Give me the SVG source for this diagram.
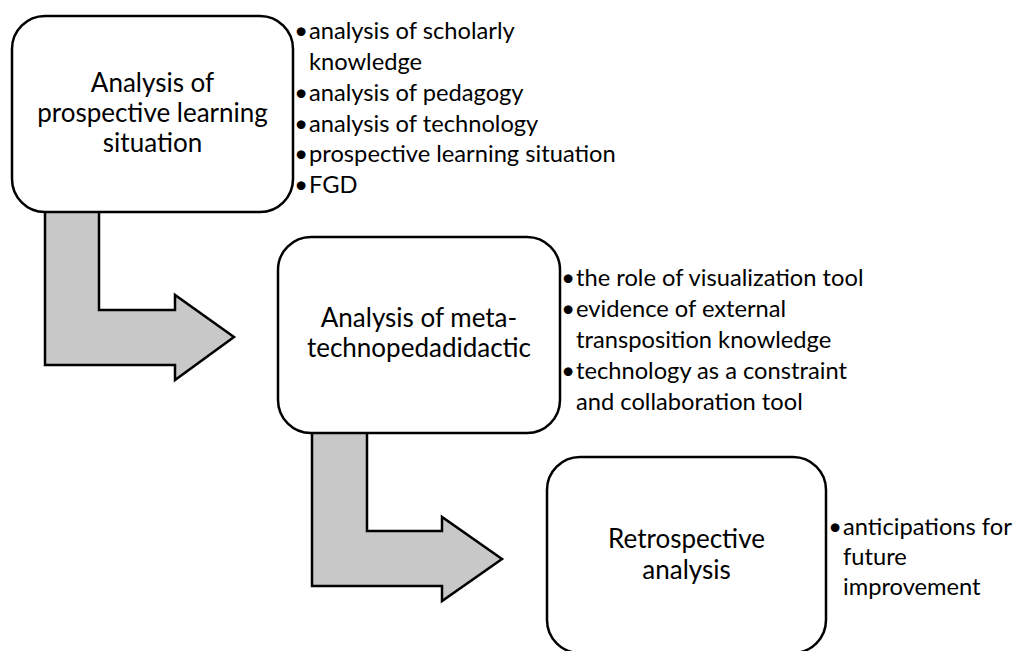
<svg xmlns="http://www.w3.org/2000/svg" width="1014" height="651" viewBox="0 0 1014 651">
<style>
.box{fill:#fff;stroke:#000;stroke-width:2.5}
.arrow{fill:#c8c8c8;stroke:#000;stroke-width:2.5;stroke-linejoin:miter}
.t{font-family:Lato,"Open Sans",sans-serif;fill:#000}
.title{font-size:26px;text-anchor:middle}
.bul{font-size:23.7px}
.dot{font-size:23.7px;text-anchor:end}
</style>
<rect width="1014" height="651" fill="#fff"/>
<g id="connectors">
<polygon class="arrow" points="45,205 99,205 99,310 175,310 175,295 234,337 175,380 175,365 45,365"/>
<polygon class="arrow" points="312,426 367,426 367,531 442,531 442,517 502,559 442,601 442,586 312,586"/>
</g>
<g id="node1">
<rect class="box" x="12" y="16" width="281" height="196" rx="33"/>
<text class="t title"><tspan x="152.5" y="92">Analysis of</tspan><tspan x="152.5" y="122">prospective learning</tspan><tspan x="152.5" y="152">situation</tspan></text>
<text class="t dot"><tspan x="308" y="39">•</tspan><tspan x="308" y="101">•</tspan><tspan x="308" y="132">•</tspan><tspan x="308" y="162">•</tspan><tspan x="308" y="193">•</tspan></text>
<text class="t bul"><tspan x="309" y="39">analysis of scholarly</tspan><tspan x="309" y="70">knowledge</tspan><tspan x="309" y="101">analysis of pedagogy</tspan><tspan x="309" y="132">analysis of technology</tspan><tspan x="309" y="162">prospective learning situation</tspan><tspan x="309" y="193">FGD</tspan></text>
</g>
<g id="node2">
<rect class="box" x="278" y="237" width="282" height="196" rx="33"/>
<text class="t title"><tspan x="419" y="327">Analysis of meta-</tspan><tspan x="419" y="357">technopedadidactic</tspan></text>
<text class="t dot"><tspan x="575" y="286">•</tspan><tspan x="575" y="317">•</tspan><tspan x="575" y="379">•</tspan></text>
<text class="t bul"><tspan x="576" y="286">the role of visualization tool</tspan><tspan x="576" y="317">evidence of external</tspan><tspan x="576" y="348">transposition knowledge</tspan><tspan x="576" y="379">technology as a constraint</tspan><tspan x="576" y="410">and collaboration tool</tspan></text>
</g>
<g id="node3">
<rect class="box" x="547" y="457" width="279" height="196" rx="33"/>
<text class="t title"><tspan x="686.5" y="548">Retrospective</tspan><tspan x="686.5" y="579">analysis</tspan></text>
<text class="t dot"><tspan x="842" y="535">•</tspan></text>
<text class="t bul"><tspan x="843" y="535">anticipations for</tspan><tspan x="843" y="565">future</tspan><tspan x="843" y="595">improvement</tspan></text>
</g>
</svg>
